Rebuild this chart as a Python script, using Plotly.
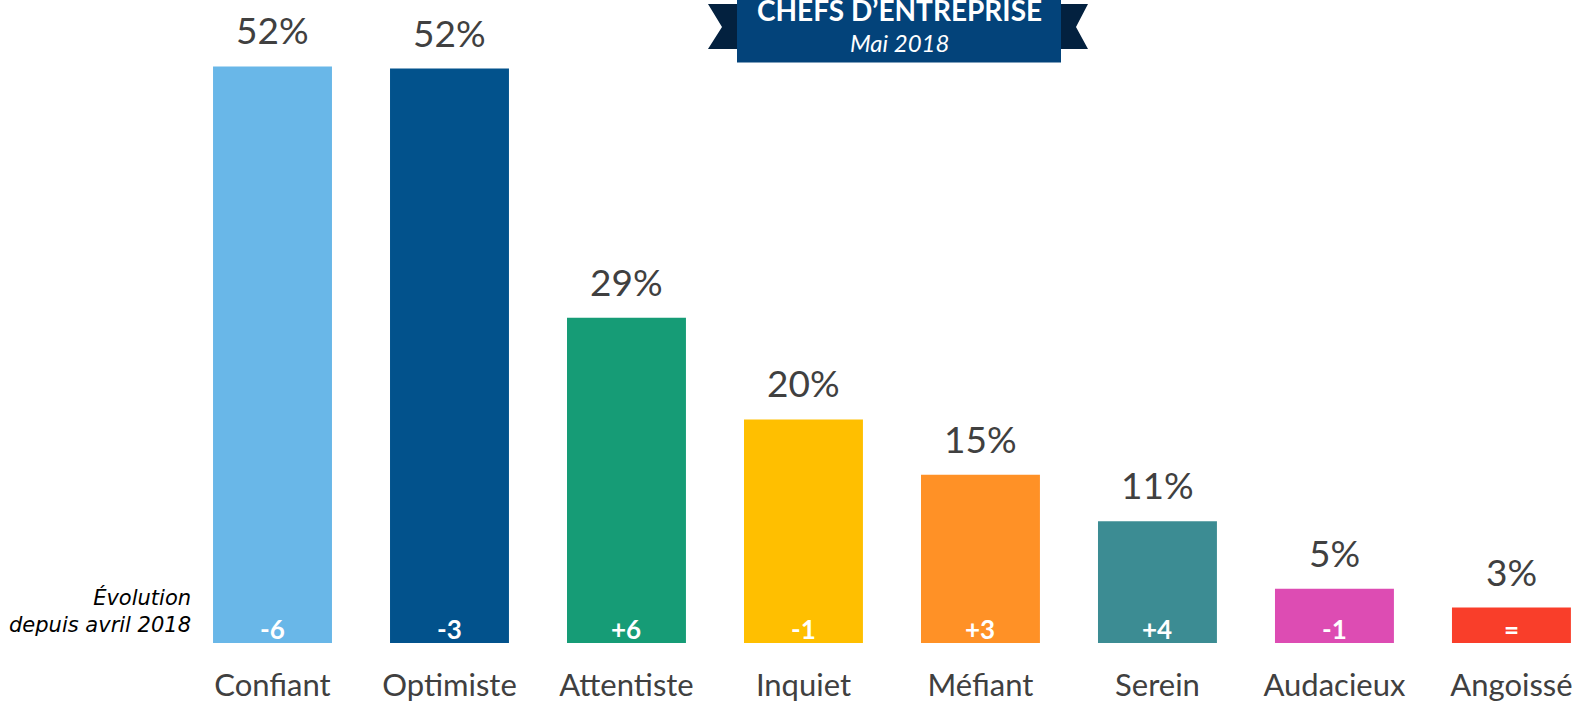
import plotly.graph_objects as go

categories = ["Confiant", "Optimiste", "Attentiste", "Inquiet", "Méfiant", "Serein", "Audacieux", "Angoissé"]
values = [52.1, 51.9, 29.4, 20.2, 15.2, 11.0, 4.9, 3.2]
value_labels = ["52%", "52%", "29%", "20%", "15%", "11%", "5%", "3%"]
evolution = ["-6", "-3", "+6", "-1", "+3", "+4", "-1", "="]
colors = ["#69B7E8", "#02528C", "#169C76", "#FFBF00", "#FF9126", "#3C8C93", "#DD4CB3", "#F93E2A"]

W, H = 1581, 707
ML, MR, MT, MB = 184, 0, 0, 64
PW, PH = W - ML - MR, H - MT - MB

def px(x):
    return (x - ML) / PW

def py(y):
    return (H - MB - y) / PH

fig = go.Figure()
fig.add_trace(go.Bar(x=categories, y=values, marker=dict(color=colors, line=dict(width=0)),
                     hoverinfo="skip"))

FONT = "Lato, Carlito, Calibri, sans-serif"
anns = []
for c, v, t, e in zip(categories, values, value_labels, evolution):
    anns.append(dict(x=c, y=v, xref="x", yref="y", text=t, showarrow=False,
                     yanchor="bottom", yshift=12, font=dict(family=FONT, size=37, color="#404040")))
    anns.append(dict(x=c, y=0, xref="x", yref="y", text="<b>%s</b>" % e, showarrow=False,
                     yanchor="bottom", yshift=-4, font=dict(family=FONT, size=26, color="white")))

anns.append(dict(x=px(193), y=py(583), xref="paper", yref="paper", xanchor="right", yanchor="top",
                 align="right", showarrow=False,
                 text="<i>Évolution<br>depuis avril 2018</i>",
                 font=dict(family="DejaVu Sans, sans-serif", size=21, color="#000000")))

# banner
anns.append(dict(x=px(899), y=py(10), xref="paper", yref="paper", text="<b>CHEFS D’ENTREPRISE</b>",
                 showarrow=False, yanchor="middle", font=dict(family=FONT, size=28, color="white")))
anns.append(dict(x=px(899), y=py(42), xref="paper", yref="paper", text="<i>Mai 2018</i>",
                 showarrow=False, yanchor="middle", font=dict(family=FONT, size=24, color="white")))

def path(points):
    return "M " + " L ".join("%f,%f" % (px(a), py(b)) for a, b in points) + " Z"

shapes = [
    dict(type="path", xref="paper", yref="paper", layer="above", line=dict(width=0), fillcolor="#03213F",
         path=path([(708, 4), (737, 4), (737, 49), (708, 49), (722, 27)])),
    dict(type="path", xref="paper", yref="paper", layer="above", line=dict(width=0), fillcolor="#03213F",
         path=path([(1061, 4), (1088, 4), (1076, 27), (1088, 49), (1061, 49)])),
    dict(type="rect", xref="paper", yref="paper", layer="above", line=dict(width=0), fillcolor="#03437A",
         x0=px(737), x1=px(1061), y0=py(62.5), y1=py(-5)),
]

fig.update_layout(
    width=W, height=H,
    margin=dict(l=ML, r=MR, t=MT, b=MB),
    paper_bgcolor="white", plot_bgcolor="white",
    bargap=0.328,
    showlegend=False,
    annotations=anns,
    shapes=shapes,
    xaxis=dict(range=[-0.5, 7.393], showgrid=False, zeroline=False, showline=False, ticks="",
               tickfont=dict(family=FONT, size=31, color="#404040"), ticklabelstandoff=21),
    yaxis=dict(range=[0, 58.1], visible=False),
)

fig.write_html("out.html", config={"displayModeBar": False},
               post_script="document.body.style.margin='0';document.body.style.overflow='hidden';")
